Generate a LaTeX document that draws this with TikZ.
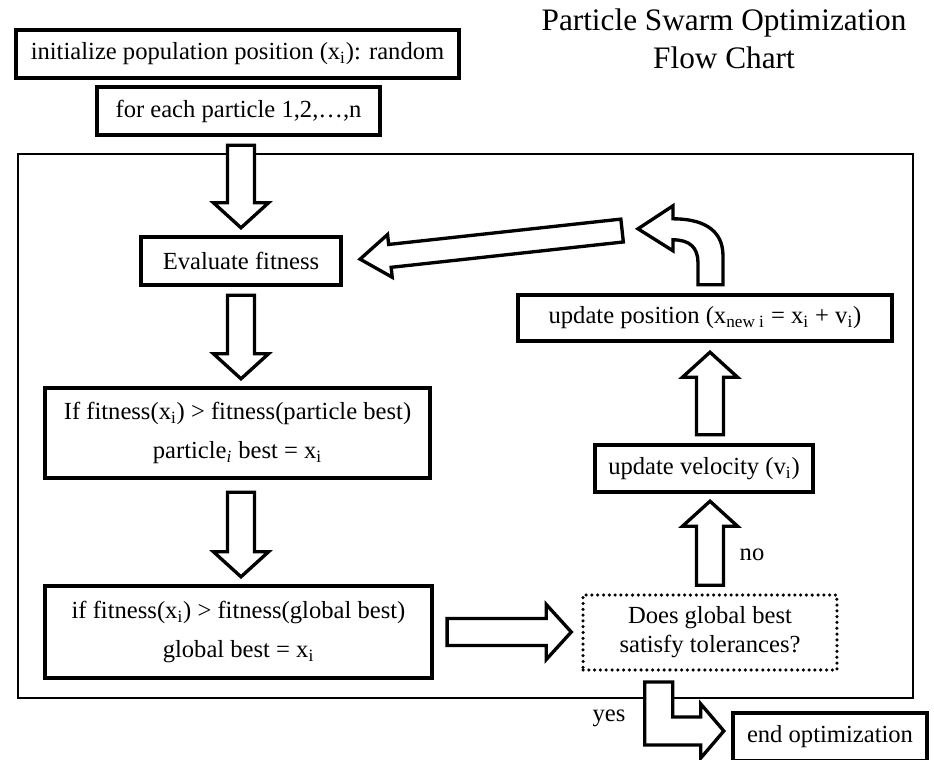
\documentclass[tikz,border=0pt]{standalone}
\usepackage{fontspec}
\setmainfont{Liberation Serif}
\usetikzlibrary{calc}

\newcommand{\arrshaft}{0.27cm}
\newcommand{\arrhead}{0.55cm}
\newcommand{\arrlen}{0.5cm}
\newcommand{\gapa}{0.16cm}
\newcommand{\gapb}{0.14cm}
% open block arrow between two points
\newcommand{\blockarrow}[3][]{%
  \begingroup#1%
  \draw[bigarrow] let \p1=(#2), \p2=(#3), \n1={atan2(\y2-\y1,\x2-\x1)},
      \p3=($(\p1)+(\n1:\gapa)$), \p4=($(\p2)+(\n1+180:\gapb)$),
      \n2={veclen(\x4-\x3,\y4-\y3)} in
    ($(\p3)+(\n1+90:\arrshaft)$)
    -- ($(\p3)+(\n1:\n2-\arrlen)+(\n1+90:\arrshaft)$)
    -- ($(\p3)+(\n1:\n2-\arrlen)+(\n1+90:\arrhead)$)
    -- (\p4)
    -- ($(\p3)+(\n1:\n2-\arrlen)+(\n1-90:\arrhead)$)
    -- ($(\p3)+(\n1:\n2-\arrlen)+(\n1-90:\arrshaft)$)
    -- ($(\p3)+(\n1-90:\arrshaft)$) -- cycle;
  \endgroup}

\tikzset{
  box/.style={draw, line width=2.5pt, inner sep=0pt, align=center,
    font=\fontsize{14}{16.5}\selectfont},
  dotbox/.style={box, line width=2pt, line cap=round, dash pattern=on 0pt off 3.3pt},
  bigarrow/.style={draw, line width=1.9pt, fill=white, line join=miter},
  lbl/.style={font=\fontsize{14}{16.5}\selectfont}
}

\begin{document}
\begin{tikzpicture}[x=0.02cm, y=-0.02cm]
  \useasboundingbox (0,0) rectangle (934,760);
  \draw[line width=1.1pt] (18,154) rectangle (913,698);

  \node[font=\fontsize{17.8}{21.5}\selectfont, align=center] (title) at (724,39)
    {Particle Swarm Optimization\\Flow Chart};

  \node[box, minimum width=8.86cm, minimum height=0.96cm] (init) at (237.5,54)
    {initialize population position (x\textsubscript{i}): random};
  \node[box, minimum width=5.66cm, minimum height=0.96cm] (fe) at (238.5,111)
    {for each particle 1,2,\dots,n};
  \node[box, minimum width=4cm, minimum height=0.96cm] (ev) at (241,261)
    {Evaluate fitness};
  \node[box, minimum width=7.7cm, minimum height=1.8cm] (ifp) at (237.5,433)
    {If fitness(x\textsubscript{i}) > fitness(particle best)\\[6pt]
     particle\textsubscript{\textit{i}} best = x\textsubscript{i}};
  \node[box, minimum width=7.74cm, minimum height=1.84cm] (ifg) at (238.5,632)
    {if fitness(x\textsubscript{i}) > fitness(global best)\\[6pt]
     global best = x\textsubscript{i}};
  \node[dotbox, minimum width=5.08cm, minimum height=1.5cm] (does) at (710,632.5)
    {Does global best\\satisfy tolerances?};
  \node[box, minimum width=4.36cm, minimum height=0.94cm] (vel) at (704,468.5)
    {update velocity (v\textsubscript{i})};
  \node[box, minimum width=7.48cm, minimum height=0.92cm] (pos) at (705,318)
    {update position (x\textsubscript{new i} = x\textsubscript{i} + v\textsubscript{i})};
  \node[box, minimum width=3.88cm, minimum height=0.96cm] (endopt) at (830,737)
    {end optimization};

  \node[lbl] (no) at (752,555) {no};
  \node[lbl] (yes) at (609,718) {yes};

  % straight block arrows
  \blockarrow{ev.north |- fe.south}{ev.north}
  \blockarrow{ev.south}{ev.south |- ifp.north}
  \blockarrow[\renewcommand{\gapa}{0.24cm}]{ev.south |- ifp.south}{ev.south |- ifg.north}
  \blockarrow[\renewcommand{\gapa}{0.26cm}\renewcommand{\gapb}{0.2cm}]{ifg.east}{does.west |- ifg.east}
  \blockarrow{does.north}{does.north |- vel.south}
  \blockarrow[\renewcommand{\gapb}{0.18cm}]{does.north |- vel.north}{does.north |- pos.south}

  % curved arrow out of update position
  \begin{scope}[shift={(pos.north)}]
    \draw[bigarrow] (-7,-8) -- (18,-8) -- (18,-37)
      .. controls (18,-65) and (-5,-74) .. (-32,-74) -- (-32,-87) -- (-67,-64)
      -- (-32,-42) -- (-32,-53) .. controls (-15,-53) and (-7,-45) .. (-7,-30) -- cycle;
    \coordinate (bend) at (-67,-64);
  \end{scope}
  \blockarrow[\renewcommand{\arrshaft}{0.23cm}\renewcommand{\arrhead}{0.43cm}%
    \renewcommand{\arrlen}{0.6cm}\renewcommand{\gapa}{0.32cm}\renewcommand{\gapb}{0.34cm}]{bend}{ev.east}

  % bent yes arrow
  \begin{scope}[shift={(endopt.west)}]
    \draw[bigarrow] (-86,-55) -- (-58,-55) -- (-58,-20) -- (-30,-20) -- (-30,-33)
      -- (-7,-6) -- (-30,21) -- (-30,8) -- (-86,8) -- cycle;
  \end{scope}
\end{tikzpicture}
\end{document}
